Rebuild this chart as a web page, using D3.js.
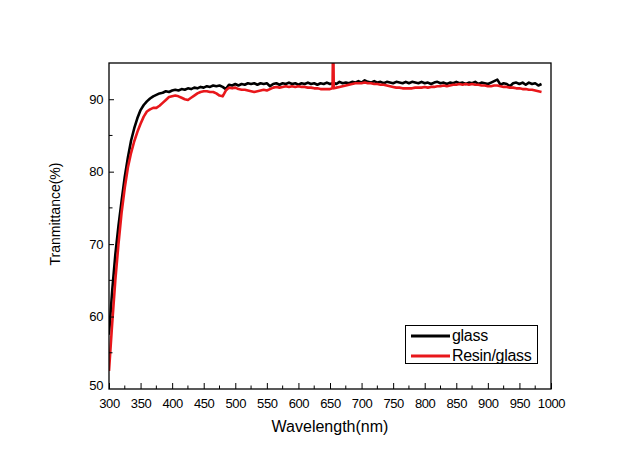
<!DOCTYPE html>
<html><head><meta charset="utf-8">
<script src="https://cdn.jsdelivr.net/npm/d3@7/dist/d3.min.js"></script>
<style>body{margin:0;background:#fff;}svg{display:block;font-family:"Liberation Sans",Arial,sans-serif;}</style>
</head><body>
<script>
const wavelength = [300,305,310,315,320,325,330,335,340,345,350,355,360,365,370,375,380,385,390,395,
400,405,410,415,420,425,430,435,440,445,450,455,460,465,470,475,480,485,490,495,
500,505,510,515,520,525,530,535,540,545,550,555,560,565,570,575,580,585,590,595,
600,605,610,615,620,625,630,635,640,645,650,654,655,656,660,665,670,675,680,685,690,695,
700,705,710,715,720,725,730,735,740,745,750,755,760,765,770,775,780,785,790,795,
800,805,810,815,820,825,830,835,840,845,850,855,860,865,870,875,880,885,890,895,
900,905,910,915,920,925,930,935,940,945,950,955,960,965,970,975,980,985];
const glass = [57.5,63.5,68.5,72.5,76.0,79.3,82.0,84.3,86.0,87.4,88.5,89.2,89.7,90.1,90.4,90.6,90.8,90.9,91.1,91.0,
91.2,91.3,91.2,91.4,91.3,91.5,91.4,91.6,91.5,91.7,91.6,91.8,91.7,91.9,91.8,91.9,91.7,91.4,92.0,91.9,
92.1,91.9,92.1,92.0,92.2,92.1,92.2,92.0,92.2,92.1,92.2,91.8,92.1,92.2,92.0,92.2,92.1,92.3,92.1,92.2,
92.0,92.2,92.1,92.3,92.1,92.2,92.0,92.2,92.1,92.3,92.1,92.2,92.2,92.3,92.1,92.4,92.2,92.3,92.2,92.4,92.3,92.5,
92.3,92.6,92.4,92.3,92.5,92.3,92.4,92.2,92.4,92.3,92.2,92.4,92.3,92.2,92.4,92.2,92.4,92.3,92.2,92.4,
92.2,92.3,92.1,92.3,92.4,92.2,92.3,92.1,92.3,92.2,92.4,92.2,92.3,92.1,92.3,92.2,92.4,92.1,92.3,92.2,
92.1,92.3,92.5,92.7,92.0,92.2,92.1,91.8,92.2,92.3,92.1,92.3,92.0,92.3,92.1,92.2,91.9,92.1];
const resinGlass = [52.5,59.0,65.0,70.0,74.4,77.8,80.6,82.6,84.2,85.5,86.6,87.6,88.3,88.6,88.8,88.8,89.1,89.5,89.9,90.3,
90.4,90.5,90.4,90.2,90.0,89.9,90.2,90.5,90.8,91.0,91.1,91.1,91.0,91.0,90.8,90.5,90.4,91.2,91.6,91.5,
91.6,91.4,91.3,91.3,91.2,91.1,91.0,91.1,91.2,91.3,91.2,91.4,91.6,91.7,91.6,91.7,91.8,91.7,91.8,91.7,
91.8,91.7,91.7,91.6,91.6,91.5,91.5,91.4,91.4,91.4,91.4,91.5,99.0,91.5,91.6,91.7,91.8,91.9,92.0,92.1,92.2,92.2,
92.2,92.3,92.2,92.2,92.1,92.1,92.0,92.0,91.9,91.8,91.7,91.6,91.6,91.5,91.5,91.5,91.5,91.6,91.6,91.6,
91.7,91.6,91.7,91.7,91.8,91.8,91.9,91.8,91.9,92.0,92.0,92.1,92.0,92.1,92.0,92.1,92.0,92.0,91.9,91.9,
91.8,91.8,91.9,91.9,91.8,91.7,91.7,91.6,91.6,91.5,91.5,91.4,91.4,91.3,91.3,91.2,91.1,91.0];
const xTicks = [300,350,400,450,500,550,600,650,700,750,800,850,900,950,1000];
const yTicks = [50,60,70,80,90];
const seriesNames = ["glass","Resin/glass"];
const seriesColors = ["#000000","#e8171b"];

const W = 638, H = 468;
const m = {left:109, right:551, top:63, bottom:389};
const svg = d3.select("body").append("svg").attr("width",W).attr("height",H);
const x = d3.scaleLinear().domain([300,1000]).range([m.left,m.right]);
const y = d3.scaleLinear().domain([50,95]).range([m.bottom,m.top]);

svg.append("clipPath").attr("id","clip").append("rect")
  .attr("x",m.left).attr("y",m.top).attr("width",m.right-m.left).attr("height",m.bottom-m.top);

const line = d3.line().x((d,i)=>x(wavelength[i])).y(d=>y(d));
const g = svg.append("g").attr("clip-path","url(#clip)");
[glass,resinGlass].forEach((s,k)=>{
  g.append("path").attr("d",line(s)).attr("fill","none")
   .attr("stroke",seriesColors[k]).attr("stroke-width",2.6).attr("stroke-linejoin","round");
});

// minor ticks
const xMinor = d3.range(325,1000,50);
const yMinor = [55,65,75,85];
svg.append("g").selectAll("line").data(xMinor).join("line")
  .attr("x1",d=>x(d)).attr("x2",d=>x(d)).attr("y1",m.bottom).attr("y2",m.bottom-3.5)
  .attr("stroke","#000").attr("stroke-width",1);
svg.append("g").selectAll("line").data(yMinor).join("line")
  .attr("y1",d=>y(d)).attr("y2",d=>y(d)).attr("x1",m.left).attr("x2",m.left+3.5)
  .attr("stroke","#000").attr("stroke-width",1);

const xAxis = svg.append("g").attr("transform",`translate(0,${m.bottom})`)
  .call(d3.axisBottom(x).tickValues(xTicks).tickFormat(d3.format("d")).tickSizeInner(-6).tickSizeOuter(0).tickPadding(10));
const yAxis = svg.append("g").attr("transform",`translate(${m.left},0)`)
  .call(d3.axisLeft(y).tickValues(yTicks.filter(v=>v>50)).tickFormat(d3.format("d")).tickSizeInner(-5).tickSizeOuter(0).tickPadding(6));
[xAxis,yAxis].forEach(a=>{
  a.select(".domain").remove();
  a.selectAll("line").attr("stroke","#000").attr("stroke-width",1);
  a.selectAll("text").attr("font-size","13px").attr("fill","#000")
   .attr("font-family","'Liberation Sans',Arial,sans-serif").attr("letter-spacing","-0.4px");
});
// "50" label placed by the y scale
svg.append("text").attr("x",m.left-6).attr("y",y(50)).attr("dy","0.1em")
  .attr("text-anchor","end").attr("font-size","13px").attr("letter-spacing","-0.4px").text("50");

svg.append("rect").attr("x",m.left).attr("y",m.top).attr("width",m.right-m.left).attr("height",m.bottom-m.top)
  .attr("fill","none").attr("stroke","#000").attr("stroke-width",1.3);

svg.append("text").attr("x",(m.left+m.right)/2).attr("y",432).attr("text-anchor","middle")
  .attr("font-size","16px").text("Wavelength(nm)");
svg.append("text").attr("transform","translate(60,214) rotate(-90)").attr("text-anchor","middle")
  .attr("font-size","14px").text("Tranmittance(%)");

// legend
const lg = svg.append("g");
lg.append("rect").attr("x",405.5).attr("y",325.5).attr("width",132).attr("height",38)
  .attr("fill","#fff").attr("stroke","#000").attr("stroke-width",1);
seriesNames.forEach((n,k)=>{
  const yy = 336 + k*20;
  lg.append("line").attr("x1",411).attr("x2",450).attr("y1",yy).attr("y2",yy)
    .attr("stroke",seriesColors[k]).attr("stroke-width",3);
  lg.append("text").attr("x",452).attr("y",yy+4.5).attr("font-size","16px").attr("letter-spacing","-0.3px").text(n);
});
</script>
</body></html>
